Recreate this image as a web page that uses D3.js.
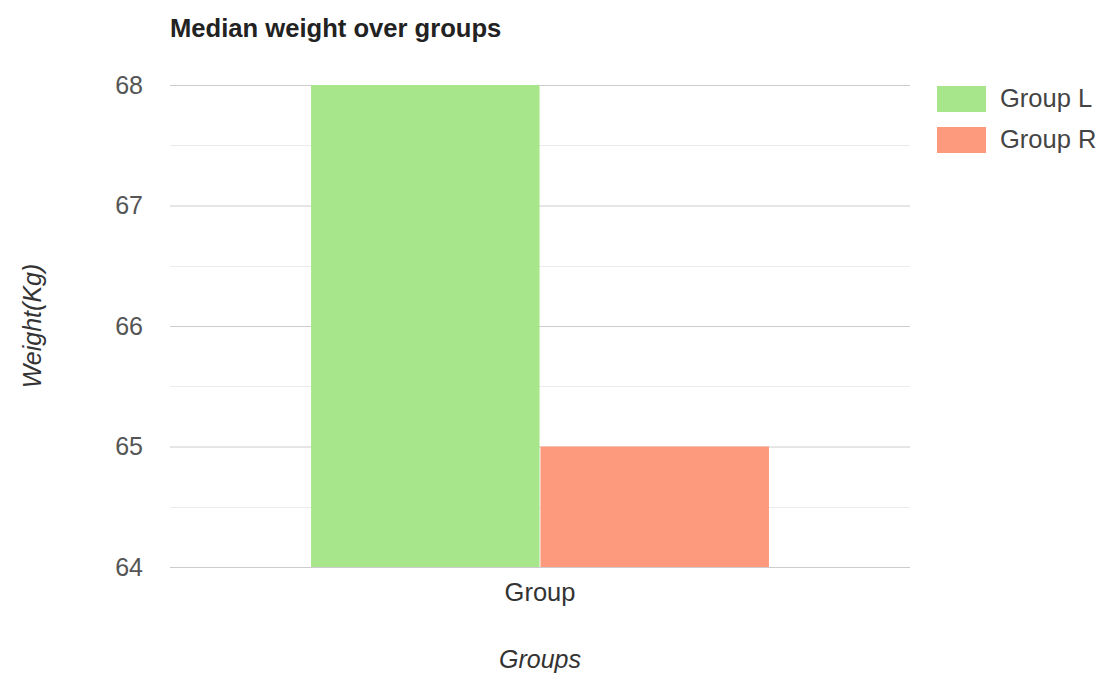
<!DOCTYPE html>
<html>
<head>
<meta charset="utf-8">
<script src="https://cdn.jsdelivr.net/npm/d3@7"></script>
<style>
  html, body { margin: 0; padding: 0; background: #fff; }
  svg { display: block; font-family: "Liberation Sans", Arial, sans-serif; }
</style>
</head>
<body>
<svg id="chart" width="1111" height="679"></svg>
<script>
// Median weight per group
const categories = ["Group"];
const seriesNames = ["Group L", "Group R"];
const seriesValues = [68, 65];
const seriesColors = ["#a8e68c", "#fd9a7e"];
const yTicks = [64, 65, 66, 67, 68];
const yMinorTicks = [64.5, 65.5, 66.5, 67.5];

const svg = d3.select("#chart");
const plot = { left: 170, right: 910, top: 85, bottom: 567 };
const FONT = "'Liberation Sans', Arial, sans-serif";

const y = d3.scaleLinear().domain([64, 68]).range([plot.bottom, plot.top]);
const x0 = d3.scaleBand().domain(categories).range([plot.left, plot.right]).paddingInner(0).paddingOuter(0.308);
const x1 = d3.scaleBand().domain(seriesNames).range([0, x0.bandwidth()]).paddingInner(0.004);

// Title
svg.append("text")
  .attr("x", 170).attr("y", 37)
  .attr("font-size", 25.6).attr("font-weight", "bold").attr("fill", "#222")
  .text("Median weight over groups");

// Minor gridlines
svg.append("g").selectAll("line").data(yMinorTicks).join("line")
  .attr("x1", plot.left).attr("x2", plot.right)
  .attr("y1", d => Math.round(y(d)) + 0.5).attr("y2", d => Math.round(y(d)) + 0.5)
  .attr("stroke", "#ebebeb").attr("stroke-width", 1);

// Major gridlines + tick labels via axis
const yAxis = d3.axisLeft(y).tickValues(yTicks).tickSize(-(plot.right - plot.left)).tickPadding(27).tickFormat(d3.format("d"));
const gy = svg.append("g").attr("transform", `translate(${plot.left},0)`).call(yAxis);
gy.select(".domain").remove();
gy.selectAll(".tick line").attr("stroke", "#cccccc");
gy.selectAll(".tick text").attr("font-size", 25).attr("fill", "#555").attr("font-family", FONT);

// Bars
const groups = svg.append("g").selectAll("g").data(categories).join("g")
  .attr("transform", d => `translate(${x0(d)},0)`);
groups.selectAll("rect")
  .data(() => seriesNames.map((s, i) => ({ s, v: seriesValues[i], c: seriesColors[i] })))
  .join("rect")
  .attr("x", d => x1(d.s))
  .attr("width", x1.bandwidth())
  .attr("y", d => y(d.v))
  .attr("height", d => y(64) - y(d.v))
  .attr("fill", d => d.c);

// Baseline redraw on top
svg.append("line")
  .attr("x1", plot.left).attr("x2", plot.right)
  .attr("y1", Math.round(y(64)) + 0.5).attr("y2", Math.round(y(64)) + 0.5)
  .attr("stroke", "#cccccc");

// X axis category labels
const xAxis = d3.axisBottom(x0).tickSize(0).tickPadding(16);
const gx = svg.append("g").attr("transform", `translate(0,${plot.bottom})`).call(xAxis);
gx.select(".domain").remove();
gx.selectAll(".tick text").attr("font-size", 25.5).attr("fill", "#333").attr("font-family", FONT);

// Axis titles
svg.append("text")
  .attr("x", (plot.left + plot.right) / 2).attr("y", 668)
  .attr("text-anchor", "middle").attr("font-size", 25).attr("font-style", "italic").attr("fill", "#333")
  .text("Groups");
svg.append("text")
  .attr("transform", `translate(41,${(plot.top + plot.bottom) / 2}) rotate(-90)`)
  .attr("text-anchor", "middle").attr("font-size", 25).attr("font-style", "italic").attr("fill", "#333")
  .text("Weight(Kg)");

// Legend
const legend = svg.append("g").attr("transform", "translate(937,86)");
const li = legend.selectAll("g").data(seriesNames).join("g")
  .attr("transform", (d, i) => `translate(0,${i * 41})`);
li.append("rect").attr("width", 49).attr("height", 26).attr("fill", (d, i) => seriesColors[i]);
li.append("text").attr("x", 63).attr("y", 21).attr("font-size", 25.5).attr("fill", "#444").text(d => d);
</script>
</body>
</html>
